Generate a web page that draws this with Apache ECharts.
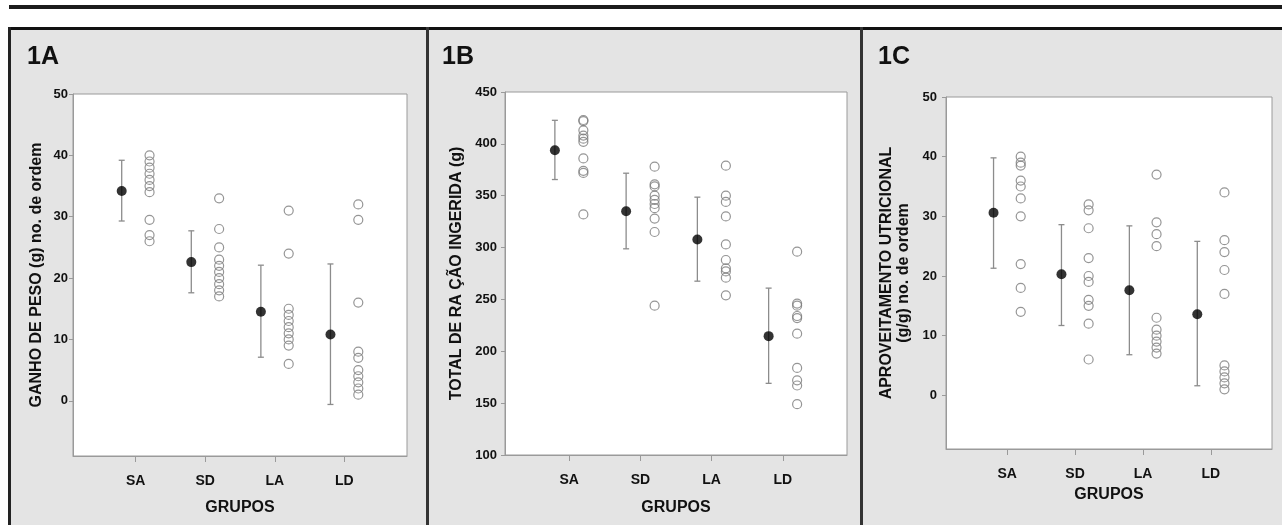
<!DOCTYPE html>
<html>
<head>
<meta charset="utf-8">
<script src="https://cdn.jsdelivr.net/npm/echarts@6/dist/echarts.min.js"></script>
<style>html,body{margin:0;padding:0;background:#fff;}#c{width:1282px;height:525px;}</style>
</head>
<body>
<div id="c"></div>
<script>
// ---------- DATA ----------
const groups = ['SA', 'SD', 'LA', 'LD'];
const groupPos = [1, 2, 3, 4];

// 1A: Ganho de peso (ranks)
const ganhoMean = [34.2, 22.6, 14.5, 10.8];
const ganhoLow  = [29.3, 17.6, 7.1, -0.6];
const ganhoHigh = [39.2, 27.7, 22.1, 22.3];
const ganhoSA = [40, 39, 38, 37, 36, 35, 34, 29.5, 27, 26];
const ganhoSD = [33, 28, 25, 23, 22, 21, 20, 19, 18, 17];
const ganhoLA = [31, 24, 15, 14, 13, 12, 11, 10, 9, 6];
const ganhoLD = [32, 29.5, 16, 8, 7, 5, 4, 3, 2, 1];
const ganhoTicks = [0, 10, 20, 30, 40, 50];

// 1B: Total de ração ingerida (g)
const racaoMean = [393.8, 335.1, 307.8, 214.6];
const racaoLow  = [365.6, 298.8, 267.6, 169.1];
const racaoHigh = [422.7, 371.7, 348.6, 260.9];
const racaoSA = [423, 422, 413, 408, 405, 402, 386, 374, 372, 332];
const racaoSD = [378, 361, 359, 350, 346, 342, 338, 328, 315, 244];
const racaoLA = [379, 350, 344, 330, 303, 288, 280, 277, 271, 254];
const racaoLD = [296, 246, 244, 234, 232, 217, 184, 172, 167, 149];

// 1C: Aproveitamento nutricional (ranks)
const aprovMean = [30.6, 20.3, 17.6, 13.6];
const aprovLow  = [21.3, 11.7, 6.8, 1.6];
const aprovHigh = [39.8, 28.6, 28.4, 25.8];
const aprovSA = [40, 39, 38.5, 36, 35, 33, 30, 22, 18, 14];
const aprovSD = [32, 31, 28, 23, 20, 19, 16, 15, 12, 6];
const aprovLA = [37, 29, 27, 25, 13, 11, 10, 9, 8, 7];
const aprovLD = [34, 26, 24, 21, 17, 5, 4, 3, 2, 1];
const aprovTicks = [0, 10, 20, 30, 40, 50];

// ---------- STYLE / LAYOUT ----------
const MEAN_OFF = -0.2, PTS_OFF = 0.2;
const FONT = '"Liberation Sans", Arial, sans-serif';
const AX = '#9a9a9a';

const panels = [
  { grid: {left: 73, top: 94, width: 334, height: 362}, ymin: -9, ymax: 50, ticks: ganhoTicks,
    name: 'GANHO DE PESO (g) no. de ordem', nameGap: 28, lblMargin: 5, xNameGap: 44,
    mean: ganhoMean, low: ganhoLow, high: ganhoHigh, pts: [ganhoSA, ganhoSD, ganhoLA, ganhoLD] },
  { grid: {left: 505, top: 92, width: 342, height: 363}, ymin: 100, ymax: 450, interval: 50,
    name: 'TOTAL DE RA ÇÃO INGERIDA (g)', nameGap: 40, lblMargin: 8, xNameGap: 45,
    mean: racaoMean, low: racaoLow, high: racaoHigh, pts: [racaoSA, racaoSD, racaoLA, racaoLD] },
  { grid: {left: 946, top: 97, width: 326, height: 352}, ymin: -9, ymax: 50, ticks: aprovTicks,
    name: 'APROVEITAMENTO UTRICIONAL\n(g/g) no. de ordem', nameGap: 34, lblMargin: 9, xNameGap: 38,
    mean: aprovMean, low: aprovLow, high: aprovHigh, pts: [aprovSA, aprovSD, aprovLA, aprovLD] }
];

const grids = [], xAxes = [], yAxes = [], series = [];
panels.forEach((p, k) => {
  grids.push(Object.assign({show: true, backgroundColor: '#fff', borderColor: AX, borderWidth: 1}, p.grid));
  xAxes.push({
    type: 'value', gridIndex: k, min: 0.1, max: 4.9, position: 'bottom',
    axisLine: {show: true, onZero: false, lineStyle: {color: AX}},
    splitLine: {show: false},
    axisTick: {show: true, customValues: groupPos, length: 6, lineStyle: {color: AX}},
    axisLabel: {customValues: groupPos, formatter: v => groups[Math.round(v) - 1] || '',
      fontFamily: FONT, fontWeight: 'bold', fontSize: 14, color: '#111', margin: 18},
    name: 'GRUPOS', nameLocation: 'middle', nameGap: p.xNameGap,
    nameTextStyle: {fontFamily: FONT, fontWeight: 'bold', fontSize: 16, color: '#111'}
  });
  const ya = {
    type: 'value', gridIndex: k, min: p.ymin, max: p.ymax, position: 'left',
    axisLine: {show: true, onZero: false, lineStyle: {color: AX}},
    splitLine: {show: false},
    axisTick: {show: true, length: 4, inside: false, lineStyle: {color: AX}},
    axisLabel: {fontFamily: FONT, fontWeight: 'bold', fontSize: 13, color: '#111', margin: p.lblMargin},
    name: p.name, nameLocation: 'middle', nameGap: p.nameGap, nameRotate: 90,
    nameTextStyle: {fontFamily: FONT, fontWeight: 'bold', fontSize: 16, color: '#111', lineHeight: 17, align: 'center'}
  };
  if (p.interval) { ya.interval = p.interval; }
  if (p.ticks) { ya.axisLabel.customValues = p.ticks; ya.axisTick.customValues = p.ticks; }
  yAxes.push(ya);

  // error bars
  series.push({
    type: 'custom', xAxisIndex: k, yAxisIndex: k, z: 2,
    data: groupPos.map((g, i) => [g + MEAN_OFF, p.low[i], p.high[i]]),
    renderItem: (params, api) => {
      const x = api.value(0);
      const t = api.coord([x, api.value(2)]);
      const b = api.coord([x, api.value(1)]);
      const w = 3, st = {stroke: '#8c8c8c', lineWidth: 1.3};
      return {type: 'group', children: [
        {type: 'line', shape: {x1: t[0], y1: t[1], x2: b[0], y2: b[1]}, style: st},
        {type: 'line', shape: {x1: t[0] - w, y1: t[1], x2: t[0] + w, y2: t[1]}, style: st},
        {type: 'line', shape: {x1: b[0] - w, y1: b[1], x2: b[0] + w, y2: b[1]}, style: st}
      ]};
    }
  });
  // mean dots
  series.push({
    type: 'scatter', xAxisIndex: k, yAxisIndex: k, z: 4, symbol: 'circle', symbolSize: 10,
    itemStyle: {color: '#000'},
    data: groupPos.map((g, i) => [g + MEAN_OFF, p.mean[i]])
  });
  // individual values
  const pts = [];
  p.pts.forEach((arr, i) => arr.forEach(v => pts.push([groupPos[i] + PTS_OFF, v])));
  series.push({
    type: 'scatter', xAxisIndex: k, yAxisIndex: k, z: 3, symbol: 'circle', symbolSize: 9,
    itemStyle: {color: 'rgba(0,0,0,0)', borderColor: '#7a7a7a', borderWidth: 1.2},
    data: pts
  });
});

const titleStyle = {fontFamily: FONT, fontWeight: 'bold', fontSize: 25, fill: '#111'};
const graphic = [
  {type: 'rect', z: -20, shape: {x: 0, y: 0, width: 1282, height: 525}, style: {fill: '#fff'}},
  {type: 'rect', z: -19, shape: {x: 9, y: 5, width: 1273, height: 4}, style: {fill: '#1c1c1c'}},
  {type: 'rect', z: -19, shape: {x: 9, y: 27, width: 1273, height: 498}, style: {fill: '#e4e4e4'}},
  {type: 'rect', z: 50, shape: {x: 8, y: 27, width: 1274, height: 3}, style: {fill: '#111'}},
  {type: 'rect', z: 50, shape: {x: 8, y: 27, width: 3, height: 498}, style: {fill: '#222'}},
  {type: 'rect', z: 50, shape: {x: 426, y: 27, width: 3, height: 498}, style: {fill: '#333'}},
  {type: 'rect', z: 50, shape: {x: 860, y: 27, width: 3, height: 498}, style: {fill: '#333'}},
  {type: 'text', z: 50, x: 27, y: 45, style: Object.assign({text: '1A'}, titleStyle)},
  {type: 'text', z: 50, x: 442, y: 45, style: Object.assign({text: '1B'}, titleStyle)},
  {type: 'text', z: 50, x: 878, y: 45, style: Object.assign({text: '1C'}, titleStyle)}
];

const chart = echarts.init(document.getElementById('c'), null, {renderer: 'canvas'});
chart.setOption({
  animation: false,
  backgroundColor: '#fff',
  graphic: graphic,
  grid: grids,
  xAxis: xAxes,
  yAxis: yAxes,
  series: series
});
</script>
</body>
</html>
